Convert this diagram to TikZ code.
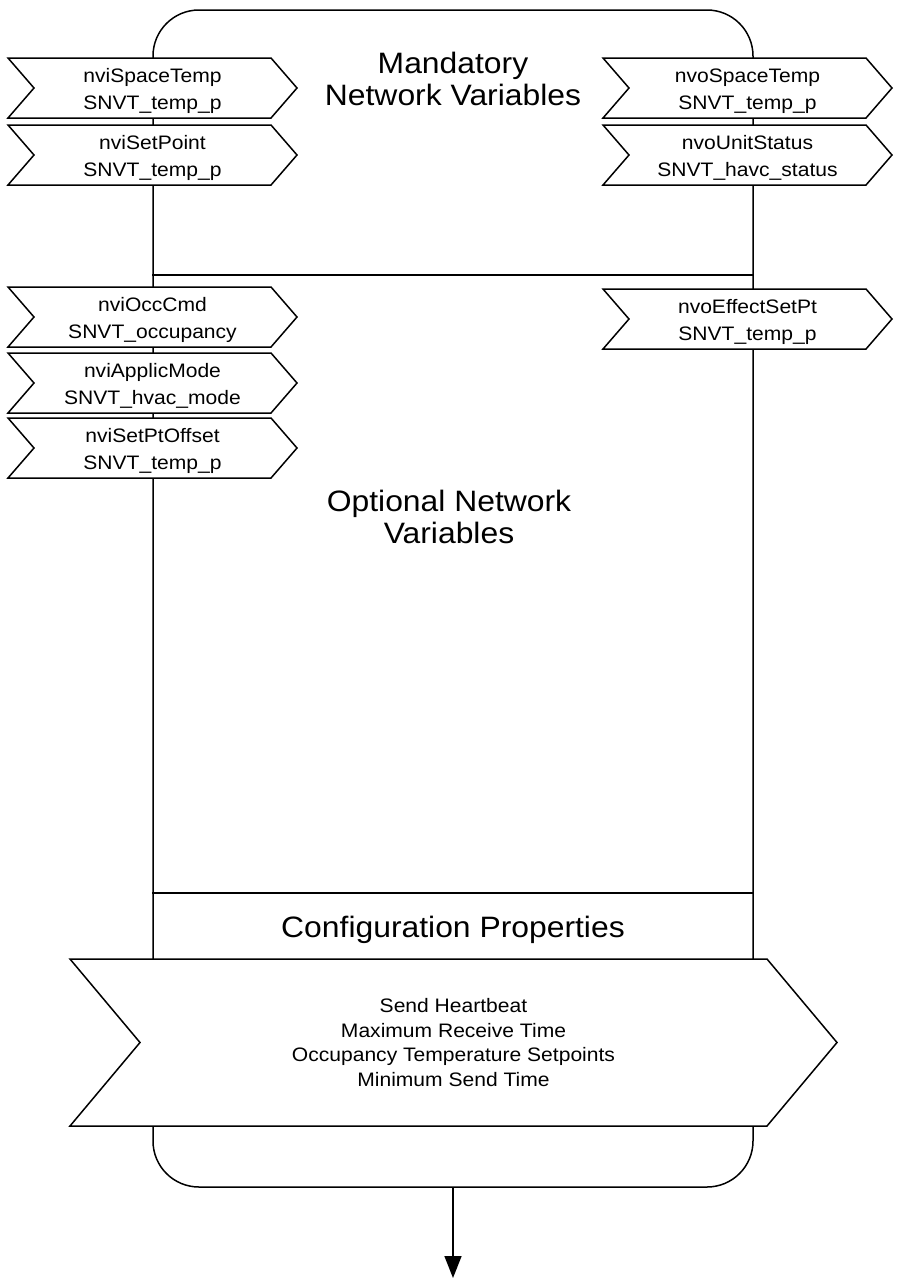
\documentclass[tikz,border=0pt]{standalone}
\usepackage{fontspec}
\setmainfont[FakeStretch=1.08]{Liberation Sans}
\usetikzlibrary{arrows.meta}

\tikzset{
  nvline/.style={line width=1.5pt, draw=black},
  nvtxt/.style={align=center, inner sep=0pt, font=\fontsize{19.5}{27}\selectfont},
  cptxt/.style={align=center, inner sep=0pt, font=\fontsize{19.5}{24.7}\selectfont},
  titletxt/.style={align=center, inner sep=0pt, font=\fontsize{29.5}{32.5}\selectfont},
}
% chevron: left x, top y, width, height, depth of the point
\newcommand{\nvchevron}[5]{%
  \draw[nvline, fill=white, line join=miter] (#1,#2) -- ++(#3-#5,0) -- ++(#5,#4/2)
    -- ++(-#5,#4/2) -- ++(-#3+#5,0) -- ++(#5,-#4/2) -- cycle;}

\begin{document}
\begin{tikzpicture}[x=1pt, y=-1pt]
    \useasboundingbox (0,0) rectangle (902,1278);
    \node[nvline, draw, rounded corners=46pt, inner sep=0pt, minimum width=600pt, minimum height=1177pt] (unit) at (453,598.5) {};
    \draw[nvline] (unit.west |- 0,275) -- (unit.east |- 0,275);
    \draw[nvline] (unit.west |- 0,893) -- (unit.east |- 0,893);
    \node[titletxt] (mandatory) at (453,79) {Mandatory\\Network Variables};
    \node[titletxt] (optional) at (449,517) {Optional Network\\Variables};
    \node[titletxt, anchor=base] (config) at (453,937) {Configuration Properties};
    \foreach \nm/\xl/\yt/\first/\second in {spacetemp/8/58/nviSpaceTemp/SNVT\_temp\_p,
        setpoint/8/125/nviSetPoint/SNVT\_temp\_p,
        occcmd/8/287/nviOccCmd/SNVT\_occupancy,
        applicmode/8/353/nviApplicMode/SNVT\_hvac\_mode,
        setptoffset/8/418/nviSetPtOffset/SNVT\_temp\_p,
        outspacetemp/603/58/nvoSpaceTemp/SNVT\_temp\_p,
        unitstatus/603/125/nvoUnitStatus/SNVT\_havc\_status,
        effectsetpt/603/289/nvoEffectSetPt/SNVT\_temp\_p}{
      \nvchevron{\xl}{\yt}{289}{60}{26}
      \node[nvtxt] (\nm) at (\xl+144.5,\yt+33) {\first\\\second};
    }
    \nvchevron{70}{959}{767}{167}{70}
    \node[cptxt] (props) at (453.5,1042.5) {Send Heartbeat\\Maximum Receive Time\\Occupancy Temperature Setpoints\\Minimum Send Time};
    \coordinate (out) at (453,1278);
    \draw[nvline, -{Triangle[width=17pt,length=22pt]}] (unit.south) -- (out);
\end{tikzpicture}
\end{document}
